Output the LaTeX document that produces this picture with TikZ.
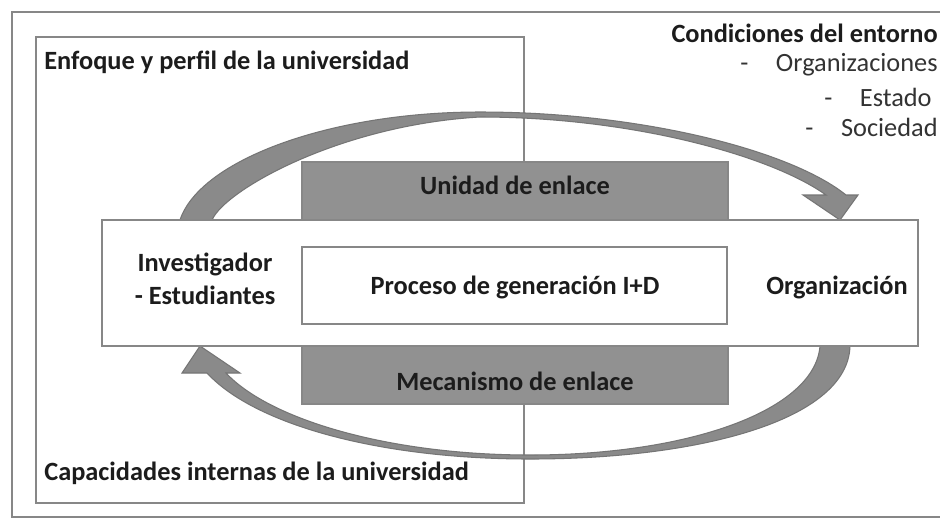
\documentclass[tikz,border=0pt]{standalone}
\usepackage{fontspec}
\setmainfont{Carlito}
\usetikzlibrary{shapes}
\definecolor{ln}{RGB}{135,135,135}
\definecolor{gf}{RGB}{145,145,145}
\definecolor{af}{RGB}{138,138,138}
\definecolor{tx}{RGB}{28,28,28}
\tikzstyle{bx}=[rectangle,draw=ln,line width=1.1pt,fill=white,inner sep=0pt]
\tikzstyle{gbx}=[bx,fill=gf]
\tikzstyle{lb}=[text=tx,font=\fontsize{15}{18.5}\selectfont\bfseries,inner sep=0pt]
\tikzstyle{it}=[text=tx!90,font=\fontsize{15}{18.5}\selectfont,inner sep=0pt]
\tikzstyle{arw}=[fill=af,draw=af!85!black,line width=0.6pt]

\begin{document}
\begin{tikzpicture}[x=0.02cm,y=-0.02cm]
\clip (0,0) rectangle (940,522);
\fill[white] (0,0) rectangle (940,522);
\draw[ln,line width=1.1pt] (12,12) rectangle (960,517);
\node[bx,minimum width=9.76cm,minimum height=9.32cm] (univ) at (280,270) {};
% flechas curvas
\path[arw] (180,220) .. controls (200,160) and (330,112) .. (480,112)
  .. controls (640,112) and (790,150) .. (846,195) -- (858,195) -- (840,220) -- (803,195) -- (826,195)
  .. controls (770,155) and (630,117) .. (480,117)
  .. controls (340,125) and (225,190) .. (212,220) -- cycle;
\path[arw] (850,346) .. controls (848,420) and (700,459) .. (530,459)
  .. controls (380,459) and (255,425) .. (207,373) -- (182,373) -- (200,346) -- (240,373) -- (226,373)
  .. controls (270,420) and (390,455) .. (530,455)
  .. controls (690,455) and (815,410) .. (820,346) -- cycle;
\node[gbx,minimum width=8.52cm,minimum height=1.16cm] (unidad) at (515,191) {};
\node[gbx,minimum width=8.52cm,minimum height=1.16cm] (mec) at (515,375) {};
\node[bx,minimum width=16.32cm,minimum height=2.52cm] (org) at (510,283) {};
\node[bx,minimum width=8.5cm,minimum height=1.54cm] (proc) at (514.5,285.5) {};
% textos
\node[lb,anchor=west] (enfoque) at (44,62) {Enfoque y perfil de la universidad};
\node[lb,anchor=west] (capac) at (44,473) {Capacidades internas de la universidad};
\node[lb,anchor=east] (cond) at (938,33) {Condiciones del entorno};
\node[it,anchor=east] (orgs) at (938,65) {-\hspace{0.55cm}Organizaciones};
\node[it,anchor=east] (estado) at (932,97) {-\hspace{0.55cm}Estado};
\node[it,anchor=east] (soc) at (938,127) {-\hspace{0.55cm}Sociedad};
\node[lb] (tunidad) at (515,185) {Unidad de enlace};
\node[lb] (tproc) at (515,287) {Proceso de generación I+D};
\node[lb] (tmec) at (515,381) {Mecanismo de enlace};
\node[lb,align=center] (inv) at (205,279) {Investigador\\- Estudiantes};
\node[lb] (torg) at (837,287) {Organización};
\end{tikzpicture}
\end{document}
